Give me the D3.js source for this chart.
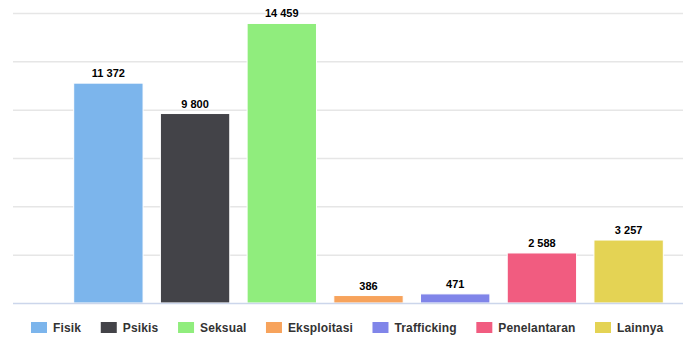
<!DOCTYPE html>
<html>
<head>
<meta charset="utf-8">
<script src="https://cdn.jsdelivr.net/npm/d3@7"></script>
<style>
  body { margin: 0; background: #fff; }
  text { font-family: "Liberation Sans", Arial, sans-serif; }
</style>
</head>
<body>
<div id="chart"></div>
<script>
// data
var categories = ["Fisik", "Psikis", "Seksual", "Eksploitasi", "Trafficking", "Penelantaran", "Lainnya"];
var values = [11372, 9800, 14459, 386, 471, 2588, 3257];
var colors = ["#7cb5ec", "#434348", "#90ed7d", "#f7a35c", "#8085e9", "#f15c80", "#e4d354"];
var yTicks = [0, 2500, 5000, 7500, 10000, 12500, 15000];

var W = 683, H = 340;
var margin = { top: 13, right: -41, bottom: 37, left: 13 },
    width = W - margin.left - margin.right,
    height = H - margin.top - margin.bottom;

var svg = d3.select("#chart").append("svg")
    .attr("width", W)
    .attr("height", H);

var g = svg.append("g")
    .attr("transform", "translate(" + margin.left + "," + margin.top + ")");

var x = d3.scaleBand()
    .domain(categories)
    .range([0, width])
    .paddingInner(0.2)
    .paddingOuter(0.7);

var y = d3.scaleLinear()
    .domain([0, 15000])
    .range([height, 0]);

var fmt = function (v) { return d3.format(",")(v).replace(/,/g, " "); };

// grid lines
g.append("g").selectAll("line")
    .data(yTicks.slice(1))
    .enter().append("line")
    .attr("x1", 0).attr("x2", width)
    .attr("y1", function (d) { return y(d) + 0.5; })
    .attr("y2", function (d) { return y(d) + 0.5; })
    .attr("stroke", "#e6e6e6")
    .attr("stroke-width", 1.5);

// bars
g.append("g").selectAll("rect")
    .data(values)
    .enter().append("rect")
    .attr("x", function (d, i) { return x(categories[i]); })
    .attr("y", function (d) { return y(d); })
    .attr("width", x.bandwidth())
    .attr("height", function (d) { return height - y(d); })
    .attr("fill", function (d, i) { return colors[i]; })
    .attr("stroke", "#fff")
    .attr("stroke-width", 1);

// baseline
g.append("line")
    .attr("x1", 0).attr("x2", width)
    .attr("y1", height + 0.5).attr("y2", height + 0.5)
    .attr("stroke", "#ccd6eb")
    .attr("stroke-width", 1.5);

// value labels
g.append("g").selectAll("text")
    .data(values)
    .enter().append("text")
    .attr("x", function (d, i) { return x(categories[i]) + x.bandwidth() / 2; })
    .attr("y", function (d) { return y(d) - 6; })
    .attr("text-anchor", "middle")
    .attr("font-size", 11)
    .attr("font-weight", "bold")
    .attr("fill", "#000")
    .attr("stroke", "#fff")
    .attr("stroke-width", 2)
    .attr("paint-order", "stroke")
    .text(fmt);

// legend
var legend = svg.append("g");
var items = legend.selectAll("g")
    .data(categories)
    .enter().append("g");

items.append("rect")
    .attr("width", 16).attr("height", 11)
    .attr("y", -6)
    .attr("fill", function (d, i) { return colors[i]; });

items.append("text")
    .attr("x", 22)
    .attr("dy", "0.35em")
    .attr("font-size", 12)
    .attr("font-weight", "bold")
    .attr("fill", "#333")
    .attr("letter-spacing", 0.15)
    .text(function (d) { return d; });

var gap = 19.5;
var pos = 0;
items.each(function () {
    var w = this.getBBox().width;
    d3.select(this).attr("transform", "translate(" + pos + ",0)");
    pos += w + gap;
});
var total = pos - gap;
legend.attr("transform", "translate(" + Math.round((W - total) / 2 + 6) + ",328)");
</script>
</body>
</html>
